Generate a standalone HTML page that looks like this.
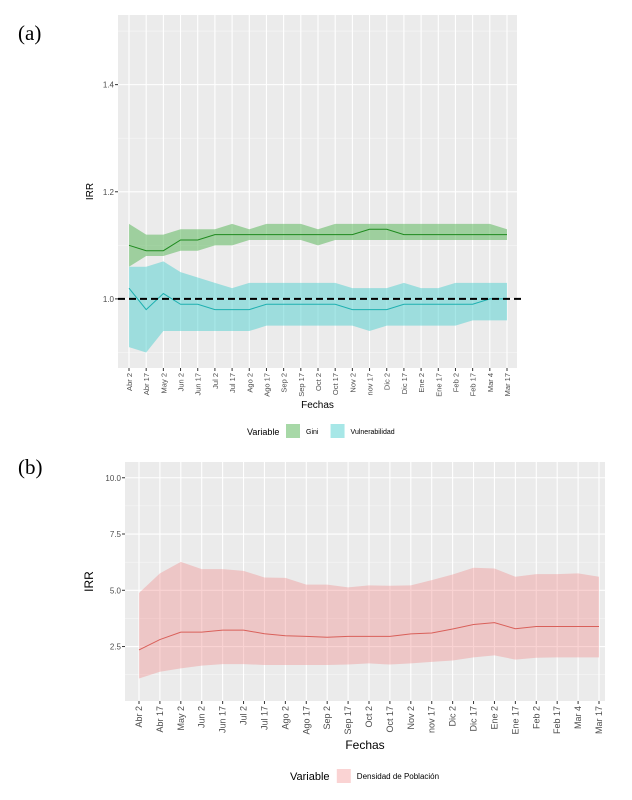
<!DOCTYPE html>
<html><head><meta charset="utf-8"><style>
body{margin:0;background:#fff;width:632px;height:800px;overflow:hidden}
svg{display:block;font-family:"Liberation Sans",sans-serif}
</style></head><body>
<svg id="s" width="632" height="800">
<text x="18" y="40" font-family="Liberation Serif" font-size="21">(a)</text>
<text x="18" y="474" font-family="Liberation Serif" font-size="21">(b)</text>
</svg>
<script>
const dates=["Abr 2","Abr 17","May 2","Jun 2","Jun 17","Jul 2","Jul 17","Ago 2","Ago 17","Sep 2","Sep 17","Oct 2","Oct 17","Nov 2","nov 17","Dic 2","Dic 17","Ene 2","Ene 17","Feb 2","Feb 17","Mar 4","Mar 17"];
const giniMid=[1.10,1.09,1.09,1.11,1.11,1.12,1.12,1.12,1.12,1.12,1.12,1.12,1.12,1.12,1.13,1.13,1.12,1.12,1.12,1.12,1.12,1.12,1.12];
const giniHi=[1.14,1.12,1.12,1.13,1.13,1.13,1.14,1.13,1.14,1.14,1.14,1.13,1.14,1.14,1.14,1.14,1.14,1.14,1.14,1.14,1.14,1.14,1.13];
const giniLo=[1.06,1.08,1.08,1.09,1.09,1.10,1.10,1.11,1.11,1.11,1.11,1.10,1.11,1.11,1.11,1.11,1.11,1.11,1.11,1.11,1.11,1.11,1.11];
const vulMid=[1.02,0.98,1.01,0.99,0.99,0.98,0.98,0.98,0.99,0.99,0.99,0.99,0.99,0.98,0.98,0.98,0.99,0.99,0.99,0.99,0.99,1.00,1.00];
const vulHi=[1.06,1.06,1.07,1.05,1.04,1.03,1.02,1.03,1.03,1.03,1.03,1.03,1.03,1.02,1.02,1.02,1.03,1.02,1.02,1.03,1.03,1.03,1.03];
const vulLo=[0.91,0.90,0.94,0.94,0.94,0.94,0.94,0.94,0.95,0.95,0.95,0.95,0.95,0.95,0.94,0.95,0.95,0.95,0.95,0.95,0.96,0.96,0.96];
const denMid=[2.35,2.81,3.14,3.14,3.23,3.23,3.07,2.98,2.95,2.91,2.95,2.95,2.95,3.06,3.10,3.28,3.48,3.56,3.29,3.39,3.39,3.39,3.39];
const denHi=[4.88,5.75,6.26,5.94,5.94,5.86,5.57,5.55,5.25,5.25,5.13,5.22,5.20,5.22,5.45,5.70,6.00,5.97,5.60,5.72,5.72,5.75,5.60];
const denLo=[1.08,1.38,1.53,1.65,1.72,1.72,1.68,1.68,1.68,1.68,1.70,1.75,1.70,1.75,1.82,1.88,2.02,2.11,1.92,2.00,2.02,2.02,2.02];
const ticksA=[1.0,1.2,1.4], minorA=[0.9,1.1,1.3,1.5];
const ticksB=[2.5,5.0,7.5,10.0], minorB=[1.25,3.75,6.25,8.75];
const S=document.getElementById('s'),NS='http://www.w3.org/2000/svg';
function mk(t,a,p){const e=document.createElementNS(NS,t);for(const k in a)e.setAttribute(k,a[k]);(p||S).appendChild(e);return e;}
function chart(o){
 const g=mk('g',{});
 
 
 const X=i=>o.x0+i*(o.x1-o.x0)/(dates.length-1);
 const Y=v=>o.yb-(v-o.vmin)*(o.yb-o.yt)/(o.vmax-o.vmin);
 const bg=mk('rect',{x:o.L,y:o.yt,width:o.R-o.L,height:o.yb-o.yt,fill:'#ebebeb'},g);
 
 
 o.minor.forEach(v=>mk('line',{x1:o.L,x2:o.R,y1:Y(v),y2:Y(v),stroke:'#f7f7f7','stroke-width':0.6},g));
 o.ticks.forEach(v=>{mk('line',{x1:o.L,x2:o.R,y1:Y(v),y2:Y(v),stroke:'#fff','stroke-width':1.1},g);
  mk('line',{x1:o.L-3,x2:o.L,y1:Y(v),y2:Y(v),stroke:'#333'},g);
  const t=mk('text',{x:o.L-4,y:Y(v)+3,'font-size':8,'text-anchor':'end',fill:'#4d4d4d'},g);t.textContent=v.toFixed(1);
  
  });
 dates.forEach((d,i)=>{mk('line',{x1:X(i),x2:X(i),y1:o.yt,y2:o.yb,stroke:'#fff','stroke-width':1.1},g);
  mk('line',{x1:X(i),x2:X(i),y1:o.yb,y2:o.yb+3,stroke:'#333'},g);
  const t=mk('text',{transform:`translate(${X(i)+3},${o.yb+5}) rotate(-90)`,'font-size':o.fs,'text-anchor':'end',fill:'#4d4d4d'},g);t.textContent=d;
  
  });
 o.series.forEach(s=>{
  let p=s.hi.map((v,i)=>X(i)+','+Y(v)).join(' ')+' '+s.lo.map((v,i)=>X(i)+','+Y(v)).reverse().join(' ');
  const r=mk('polygon',{points:p,fill:s.fill,'fill-opacity':s.op},g);
  
  
  const l=mk('polyline',{points:s.mid.map((v,i)=>X(i)+','+Y(v)).join(' '),fill:'none',stroke:s.line,'stroke-width':1},g);
  
  
 });
 if(o.ref!==undefined){const d=mk('line',{x1:o.L,x2:o.R+5,y1:Y(o.ref),y2:Y(o.ref),stroke:'#000','stroke-width':2,'stroke-dasharray':'7,4'},g);
  
  }
 const yt=mk('text',{transform:`translate(${o.L-o.ytOff},${(o.yt+o.yb)/2}) rotate(-90)`,'font-size':o.tfs,'text-anchor':'middle'},g);yt.textContent='IRR';
 
 
 const xt=mk('text',{x:(o.L+o.R)/2,y:o.xtY,'font-size':o.tfs,'text-anchor':'middle'},g);xt.textContent='Fechas';
 
 
 let lx=o.legX;
 const lv=mk('text',{x:lx,y:o.legY+4,'font-size':o.tfs-1},g);lv.textContent='Variable';
 
 
 lx+=o.tfs*3.9;
 o.series.forEach(s=>{const k=mk('rect',{x:lx,y:o.legY-7,width:14,height:14,fill:s.fill,'fill-opacity':s.op},g);
  
  
  const t=mk('text',{x:lx+20,y:o.legY+3,'font-size':o.lfs},g);t.textContent=s.label;
  
  
  lx+=20+s.label.length*o.lfs*0.52+10;});
}
chart({name:'chart-a',L:118,R:517,yt:15,yb:368,x0:129,x1:507,vmin:0.871,vmax:1.53,ticks:ticksA,minor:minorA,fs:7.5,tfs:10,ytOff:25,xtY:408,legX:247,legY:431,lfs:7,ref:1.0,
 series:[{nm:'gini',hi:giniHi,lo:giniLo,mid:giniMid,fill:'#5fb85f',op:0.55,line:'#1e8a1e',label:'Gini'},
 {nm:'vulnerabilidad',hi:vulHi,lo:vulLo,mid:vulMid,fill:'#4fcfcf',op:0.5,line:'#1fb0b0',label:'Vulnerabilidad'}]});
chart({name:'chart-b',L:125,R:605,yt:462,yb:701,x0:139,x1:599,vmin:0.08,vmax:10.7,ticks:ticksB,minor:minorB,fs:9,tfs:12,ytOff:32,xtY:749,legX:290,legY:776,lfs:8,
 series:[{nm:'densidad',hi:denHi,lo:denLo,mid:denMid,fill:'#f08080',op:0.35,line:'#d9605a',label:'Densidad de Población'}]});
</script>
</body></html>
